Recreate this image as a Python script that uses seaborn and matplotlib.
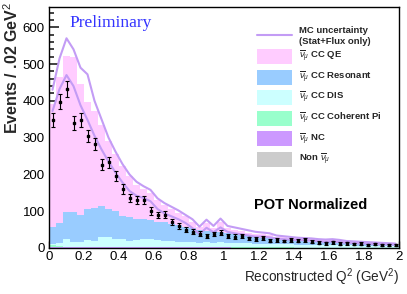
import matplotlib
matplotlib.use("Agg")
import matplotlib.pyplot as plt
import numpy as np
import pandas as pd
import seaborn as sns
from matplotlib.patches import Rectangle
from matplotlib.ticker import MultipleLocator

# 50 bins of 0.04 GeV^2 between 0 and 2
n_bins = 50
q2_range = (0.0, 2.0)
q2_centers = np.linspace(0.02, 1.98, n_bins)

# data points (events per bin) and their error bars
data_events = [349, 398, 432, 340, 347, 305, 283, 226, 233, 196,
               160, 136, 131, 131, 101, 90, 91, 70, 60, 50,
               44, 39, 33, 38, 42, 33, 31, 32, 26, 25,
               27, 20, 21, 19, 21, 20, 22, 17, 14, 13,
               15, 12, 13, 11, 12, 9, 10, 8, 9, 8]
data_errors = [19, 20, 21, 18, 19, 17, 17, 15, 15, 14,
               13, 12, 11, 11, 10, 9, 10, 8, 8, 7,
               7, 6, 6, 6, 6, 6, 6, 6, 5, 5,
               5, 4, 5, 4, 5, 4, 5, 4, 4, 4,
               4, 3, 4, 3, 3, 3, 3, 3, 3, 3]

# MC stack, read as the top edge of each layer
qe_top = [392, 465, 521, 518, 445, 398, 372, 335, 290, 255,
          222, 195, 172, 160, 150, 130, 116, 105, 96, 86,
          72, 56, 68, 54, 70, 54, 49, 46, 42, 39,
          37, 36, 31, 29, 28, 26, 25, 24, 22, 21,
          22, 20, 18, 17, 16, 15, 14, 13, 12, 11]
res_top = [57, 68, 98, 98, 90, 107, 108, 115, 107, 101,
           86, 84, 80, 78, 76, 71, 70, 66, 62, 58,
           55, 50, 47, 45, 44, 42, 38, 36, 33, 30,
           28, 27, 24, 22, 21, 19, 18, 17, 16, 15,
           15, 14, 13, 12, 11, 10, 10, 9, 8, 8]
dis_top = [11, 13, 24, 17, 16, 22, 20, 30, 29, 25,
           24, 20, 22, 24, 25, 22, 20, 19, 16, 17,
           16, 13, 15, 14, 15, 14, 14, 13, 13, 12,
           12, 11, 11, 10, 10, 9, 9, 9, 8, 8,
           8, 7, 7, 7, 6, 6, 6, 5, 5, 5]
coh_top = [9, 6, 4, 3, 3, 3, 3, 3, 3, 3,
           3, 3, 3, 3, 3, 3, 3, 3, 3, 3,
           2, 2, 2, 2, 2, 2, 2, 2, 2, 2,
           2, 2, 2, 2, 2, 1, 1, 1, 1, 1,
           1, 1, 1, 1, 1, 1, 1, 1, 1, 1]
nc_top = [3, 3, 3, 2, 2, 2, 2, 2, 2, 2,
          2, 2, 2, 2, 2, 2, 2, 2, 2, 2,
          2, 2, 2, 2, 2, 2, 1, 1, 1, 1,
          1, 1, 1, 1, 1, 1, 1, 1, 1, 1,
          1, 1, 1, 1, 1, 1, 1, 1, 1, 1]
nonnumu_top = [1, 1, 1, 1, 1, 1, 1, 1, 1, 1,
               1, 1, 1, 1, 1, 1, 1, 1, 1, 1,
               1, 1, 1, 1, 1, 1, 0, 0, 0, 0,
               0, 0, 0, 0, 0, 0, 0, 0, 0, 0,
               0, 0, 0, 0, 0, 0, 0, 0, 0, 0]

# MC uncertainty band (Stat+Flux), upper and lower curves
mc_upper = [430, 515, 570, 540, 490, 472, 400, 350, 300, 262,
            228, 200, 180, 168, 158, 135, 122, 112, 102, 90,
            78, 58, 77, 60, 80, 60, 56, 52, 48, 44,
            42, 40, 34, 32, 30, 28, 27, 26, 24, 23,
            24, 22, 19, 18, 17, 16, 15, 14, 13, 12]
mc_lower = [372, 432, 470, 440, 388, 348, 305, 268, 235, 205,
            178, 155, 142, 136, 127, 106, 94, 86, 78, 68,
            54, 38, 55, 43, 56, 44, 40, 37, 34, 31,
            31, 29, 26, 24, 23, 22, 21, 20, 18, 17,
            18, 16, 14, 13, 13, 12, 11, 10, 10, 9]

x_ticks = [0, 0.2, 0.4, 0.6, 0.8, 1.0, 1.2, 1.4, 1.6, 1.8, 2.0]
x_tick_labels = ["0", "0.2", "0.4", "0.6", "0.8", "1", "1.2", "1.4", "1.6", "1.8", "2"]
y_ticks = [0, 100, 200, 300, 400, 500, 600]

legend_labels = [r"$\overline{\nu}_{\mu}$ CC QE", r"$\overline{\nu}_{\mu}$ CC Resonant",
                 r"$\overline{\nu}_{\mu}$ CC DIS", r"$\overline{\nu}_{\mu}$ CC Coherent Pi",
                 r"$\overline{\nu}_{\mu}$ NC", r"Non $\overline{\nu}_{\mu}$"]
legend_colors = ["#ffccff", "#99ccff", "#ccffff", "#99ffcc", "#cc99ff", "#cccccc"]
band_color = "#c39cf5"

sns.set_style("ticks")
plt.rcParams["font.family"] = ["Liberation Sans", "DejaVu Sans"]
plt.rcParams["mathtext.fontset"] = "custom"
plt.rcParams["mathtext.rm"] = "Liberation Sans"
plt.rcParams["mathtext.it"] = "Liberation Sans:italic"
plt.rcParams["mathtext.bf"] = "Liberation Sans:bold"

fig = plt.figure(figsize=(4.07, 2.94), dpi=100)
ax = fig.add_axes([49 / 407, 1 - 248 / 294, 350 / 407, 241 / 294])

# stacked MC: draw each cumulative layer over the previous one
layers = [qe_top, res_top, dis_top, coh_top, nc_top, nonnumu_top]
for top, color in zip(layers, legend_colors):
    layer_df = pd.DataFrame({"q2": q2_centers, "events": top})
    sns.histplot(data=layer_df, x="q2", weights="events", bins=n_bins,
                 binrange=q2_range, element="step", fill=True, color=color,
                 alpha=1, linewidth=0, ax=ax)

# MC uncertainty curves
sns.lineplot(x=q2_centers, y=mc_upper, color=band_color, linewidth=1.5, ax=ax)
sns.lineplot(x=q2_centers, y=mc_lower, color=band_color, linewidth=1.5, ax=ax)

# data
ax.errorbar(q2_centers, data_events, yerr=data_errors, fmt="s", color="black",
            markersize=1.8, elinewidth=0.8, capsize=1.1, capthick=0.8, zorder=5)

ax.set_xlim(0, 2.0)
ax.set_ylim(0, 655)
ax.set_xticks(x_ticks)
ax.set_xticklabels(x_tick_labels)
ax.set_yticks(y_ticks)
ax.xaxis.set_minor_locator(MultipleLocator(0.05))
ax.yaxis.set_minor_locator(MultipleLocator(20))
ax.tick_params(axis="both", which="both", direction="in", top=False, right=False,
               colors="#333333", labelcolor="black", labelsize=9.5)
ax.tick_params(axis="x", which="major", length=5, width=1, pad=2.5)
ax.tick_params(axis="x", which="minor", length=2.5, width=1)
ax.tick_params(axis="y", which="major", length=7.5, width=1.3, pad=3)
ax.tick_params(axis="y", which="minor", length=3.8, width=1.3)
for sp in ax.spines.values():
    sp.set_color("black")
    sp.set_linewidth(1)

ax.set_xlabel(r"Reconstructed Q$^{2}$ (GeV$^{2}$)", fontsize=9.8, loc="right")
ax.xaxis.set_label_coords(1.0, -0.078)
ax.set_ylabel(r"Events / .02 GeV$^{2}$", fontsize=11.5, fontweight="bold", loc="top")
ax.yaxis.set_label_coords(-0.08, 1.02)

ax.text(0.058, 0.935, "Preliminary", transform=ax.transAxes, color="#3333ff",
        fontsize=12.5, family="Liberation Serif", va="center", ha="left")
ax.text(0.585, 0.18, "POT Normalized", transform=ax.transAxes, color="black",
        fontsize=10.5, fontweight="bold", va="center", ha="left")

# hand-made legend, positions in axes fraction
box_x0, box_w, box_h = (257 - 49) / 350, 35 / 350, 15 / 241
text_x = (299 - 49) / 350
line_y = (248 - 35) / 241
ax.plot([box_x0, box_x0 + box_w], [line_y, line_y], color=band_color,
        linewidth=1.5, transform=ax.transAxes)
ax.text(text_x, (248 - 30.5) / 241, "MC uncertainty", transform=ax.transAxes,
        fontsize=6.8, fontweight="bold", va="center", ha="left")
ax.text(text_x, (248 - 41.5) / 241, "(Stat+Flux only)", transform=ax.transAxes,
        fontsize=6.8, fontweight="bold", va="center", ha="left")
for i, (label, color) in enumerate(zip(legend_labels, legend_colors)):
    yc = (248 - (56.5 + 20.6 * i)) / 241
    ax.add_patch(Rectangle((box_x0, yc - box_h / 2), box_w, box_h, facecolor=color,
                           edgecolor="none", transform=ax.transAxes, zorder=6))
    ax.text(text_x, yc, label, transform=ax.transAxes, fontsize=6.8,
            fontweight="bold", va="center", ha="left")

fig.savefig("out.png", dpi=100)
